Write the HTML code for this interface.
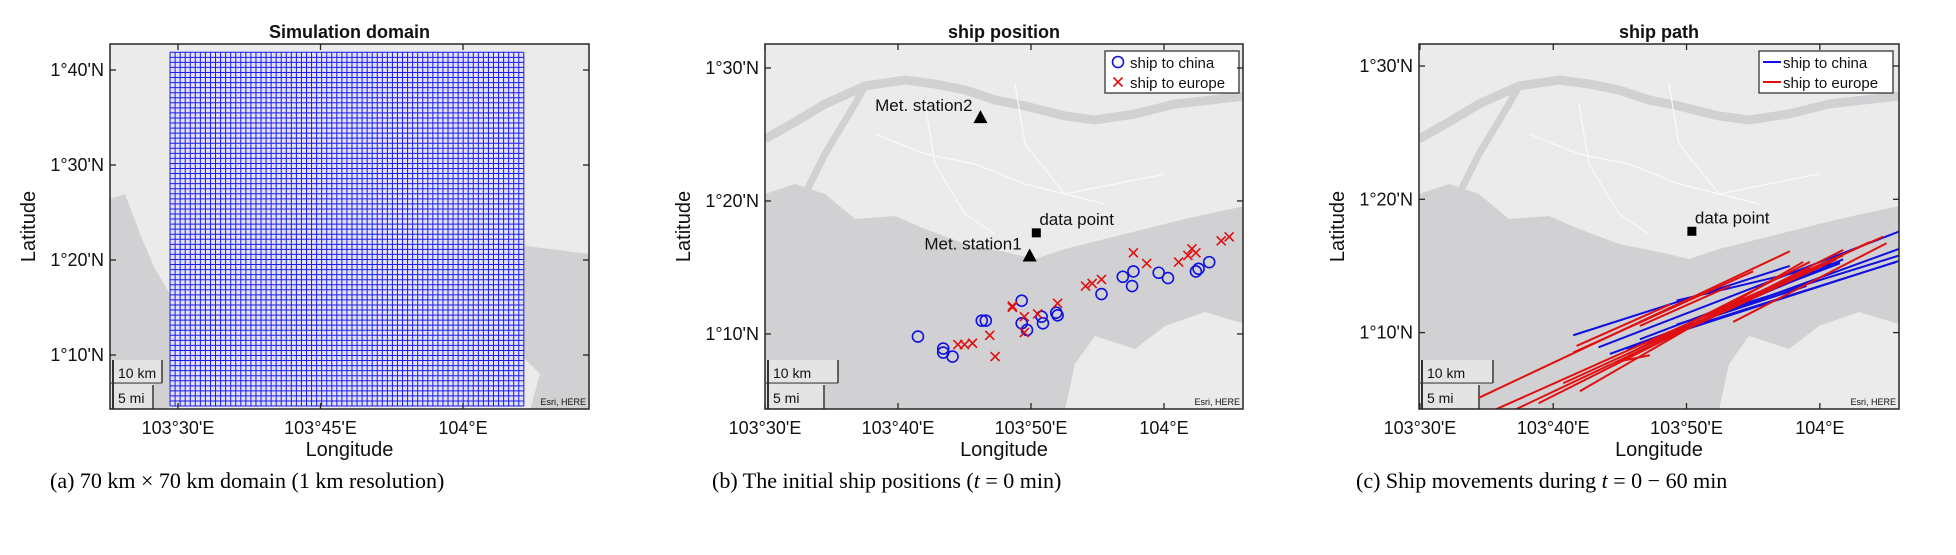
<!DOCTYPE html>
<html><head><meta charset="utf-8">
<style>
html,body{margin:0;padding:0;background:#fff;}
svg{display:block;}
text{font-family:"Liberation Sans",Arial,sans-serif;fill:#111;}
.cap{font-family:"Liberation Serif","Times New Roman",serif;font-size:22px;fill:#000;}
</style></head>
<body>
<svg id="fig" width="1956" height="555" viewBox="0 0 1956 555" xmlns="http://www.w3.org/2000/svg">
<defs>
<clipPath id="clipA"><rect x="110" y="44" width="479" height="365"/></clipPath>
<clipPath id="clipB"><rect x="765" y="44" width="478" height="365"/></clipPath>
<clipPath id="clipC"><rect x="1419" y="44" width="480" height="365"/></clipPath>
</defs>
<g id="layer"></g>
<text class="cap" x="50" y="488">(a)  70 km × 70 km domain (1 km resolution)</text>
<text class="cap" x="712" y="488">(b)  The initial ship positions (<tspan font-style="italic">t</tspan> = 0 min)</text>
<text class="cap" x="1356" y="488">(c)  Ship movements during <tspan font-style="italic">t</tspan> = 0 − 60 min</text>
</svg>
<script>
// ---- data (longitude in minutes after 103°E, latitude in minutes after 1°N) ----
const chinaLon = [41.5,43.4,43.4,44.1,46.3,46.6,49.3,49.3,49.7,50.8,50.9,52.0,51.9,55.3,56.9,57.7,57.6,59.6,60.3,62.4,62.6,63.4];
const chinaLat = [69.8,68.9,68.6,68.3,71.0,71.0,72.5,70.8,70.3,71.3,70.8,71.4,71.6,73.0,74.3,74.7,73.6,74.6,74.2,74.7,74.9,75.4];
const europeLon = [44.5,45.0,45.6,46.9,47.3,48.6,48.6,49.5,49.5,50.5,52.0,54.1,54.6,55.3,57.7,58.7,61.1,61.8,62.1,62.4,64.3,64.9];
const europeLat = [69.2,69.2,69.3,69.9,68.3,72.1,72.0,71.3,70.1,71.5,72.3,73.6,73.8,74.1,76.1,75.3,75.4,75.9,76.4,76.1,77.0,77.3];
const chinaPathLon0 = [41.5,43.4,44.25,49.25,49.25,45.5,46.5,50.75,49.5,52.0];
const chinaPathLat0 = [69.8,68.9,68.4,70.6,72.4,68.8,69.5,70.8,70.2,71.3];
const chinaPathLon1 = [57.75,66.0,66.0,66.0,61.5,66.0,61.5,59.0,65.75,61.75];
const chinaPathLat1 = [75.0,77.6,76.3,75.8,75.3,75.4,75.2,73.5,75.3,75.5];
const europePathLon0 = [34.4,35.6,37.1,38.9,41.5,41.75,42.0,44.75,45.6,44.75,46.5,53.5,40.75];
const europePathLat0 = [65.1,64.2,64.2,64.7,68.5,69.0,65.6,67.8,68.4,67.8,70.5,70.8,66.2];
const europePathLon1 = [57.75,64.75,63.75,61.75,55.0,48.75,58.75,61.25,59.25,47.25,53.25,65.0,61.75];
const europePathLat1 = [76.1,77.2,76.8,76.2,74.6,72.1,75.3,75.5,75.3,68.3,73.5,76.7,75.8];
const stationNames = ["Met. station1","Met. station2"];
const stationLon = [49.9,46.2];
const stationLat = [75.9,86.3];
const dataPointLon = [50.4];
const dataPointLat = [77.6];
const gridCells = 70;
const gridLon0 = [29.16];
const gridLat0 = [64.63];
const gridCellMin = [0.532];
const xTicksA = [30,45,60];
const xTickLabelsA = ["103°30'E","103°45'E","104°E"];
const yTicksA = [70,80,90,100];
const yTickLabelsA = ["1°10'N","1°20'N","1°30'N","1°40'N"];
const xTicksBC = [30,40,50,60];
const xTickLabelsBC = ["103°30'E","103°40'E","103°50'E","104°E"];
const yTicksBC = [70,80,90];
const yTickLabelsBC = ["1°10'N","1°20'N","1°30'N"];

const NS = "http://www.w3.org/2000/svg";
const layer = document.getElementById('layer');
function mk(tag, attrs, parent){
  const e = document.createElementNS(NS, tag);
  for (const k in attrs) e.setAttribute(k, attrs[k]);
  (parent||layer).appendChild(e);
  return e;
}
function panel(left, top, w, h, lonLeft, latTop, ppm){
  return {left, top, w, h,
    x: lon => left + (lon - lonLeft) * ppm,
    y: lat => top + (latTop - lat) * ppm};
}
const PA = panel(110,44,479,365,22.84,102.74,9.5);
const PB = panel(765,44,478,365,30,91.8,13.3);
const PC = panel(1419,44,480,365,29.93,91.65,13.33);

function basemap(P, clip, zoomed){
  const g = mk('g', {'clip-path':'url(#'+clip+')'});
  
  
  mk('rect',{x:P.left,y:P.top,width:P.w,height:P.h,fill:'#ebebec'},g);
  const L=P.left,T=P.top;
  const pts = a => a.map(p => (L+p[0])+','+(T+p[1])).join(' ');
  if (zoomed){
    mk('polygon',{fill:'#d1d1d3',points:pts([[0,150],[30,140],[60,150],[90,175],[130,172],[160,185],[200,200],[240,208],[270,215],[300,205],[340,195],[380,185],[420,175],[480,162],[480,280],[440,268],[400,282],[370,305],[330,292],[310,320],[300,366],[0,366]])},g);
    mk('polyline',{fill:'none',stroke:'#d1d1d3','stroke-width':9,points:pts([[0,95],[30,78],[60,60],[100,42],[140,36],[170,40],[200,46],[230,56],[260,62],[300,72],[330,76],[370,70],[410,60],[480,52]])},g);
    mk('polyline',{fill:'none',stroke:'#d1d1d3','stroke-width':7,points:pts([[40,150],[60,110],[90,60],[100,42]])},g);
    mk('polyline',{fill:'none',stroke:'#fafafa','stroke-width':1.2,points:pts([[110,90],[160,110],[210,120],[260,140],[300,150],[350,140],[400,130]])},g);
    mk('polyline',{fill:'none',stroke:'#fafafa','stroke-width':1.2,points:pts([[160,60],[170,120],[200,170],[230,190]])},g);
    mk('polyline',{fill:'none',stroke:'#fafafa','stroke-width':1.2,points:pts([[250,40],[260,100],[300,150],[340,160]])},g);
  } else {
    mk('polygon',{fill:'#d1d1d3',points:pts([[0,155],[15,150],[30,190],[45,225],[60,250],[60,366],[0,366]])},g);
    mk('polygon',{fill:'#d1d1d3',points:pts([[400,200],[440,205],[479,210],[479,366],[420,366],[430,330],[400,300]])},g);
  }
  return g;
}

function axesFrame(P, xt, xl, yt, yl, title, key){
  const box = mk('rect',{x:P.left,y:P.top,width:P.w,height:P.h,fill:'none',stroke:'#262626','stroke-width':1.5});
  
  
  xt.forEach((v,i)=>{
    const x = P.x(v);
    mk('line',{x1:x,x2:x,y1:P.top+P.h,y2:P.top+P.h-6,stroke:'#262626','stroke-width':1.3});
    mk('line',{x1:x,x2:x,y1:P.top,y2:P.top+6,stroke:'#262626','stroke-width':1.3});
    const t = mk('text',{x:x,y:P.top+P.h+25,'text-anchor':'middle','font-size':18});
    t.textContent = xl[i];
    
    
  });
  yt.forEach((v,i)=>{
    const y = P.y(v);
    mk('line',{x1:P.left,x2:P.left+6,y1:y,y2:y,stroke:'#262626','stroke-width':1.3});
    mk('line',{x1:P.left+P.w,x2:P.left+P.w-6,y1:y,y2:y,stroke:'#262626','stroke-width':1.3});
    const t = mk('text',{x:P.left-6,y:y+6,'text-anchor':'end','font-size':18});
    t.textContent = yl[i];
    
    
  });
  const tt = mk('text',{x:P.left+P.w/2,y:38,'text-anchor':'middle','font-size':18,'font-weight':'bold'});
  tt.textContent = title;
  
  
  const xa = mk('text',{x:P.left+P.w/2,y:456,'text-anchor':'middle','font-size':20});
  xa.textContent = 'Longitude';
  
  
  const cx = P.left-75, cy = P.top+P.h/2;
  const ya = mk('text',{x:cx,y:cy,'text-anchor':'middle','font-size':20,transform:'rotate(-90 '+cx+' '+cy+')'});
  ya.textContent = 'Latitude';
  
  
}

function scaleBar(P, kmW, miW, key){
  const g = mk('g',{});
  
  
  const b = P.top+P.h;
  mk('rect',{x:P.left+1,y:b-49,width:kmW,height:23,fill:'#e4e4e4'},g);
  mk('rect',{x:P.left+1,y:b-25,width:miW,height:24,fill:'#e4e4e4'},g);
  mk('line',{x1:P.left+kmW,x2:P.left+kmW,y1:b-49,y2:b-26,stroke:'#333','stroke-width':1.5},g);
  mk('line',{x1:P.left+1,x2:P.left+kmW,y1:b-26,y2:b-26,stroke:'#333','stroke-width':1},g);
  mk('line',{x1:P.left+miW,x2:P.left+miW,y1:b-24,y2:b,stroke:'#333','stroke-width':1.5},g);
  mk('line',{x1:P.left+3,x2:P.left+3,y1:b-49,y2:b,stroke:'#333','stroke-width':2},g);
  const t1 = mk('text',{x:P.left+8,y:b-31,'font-size':14},g); t1.textContent='10 km';
  const t2 = mk('text',{x:P.left+8,y:b-6,'font-size':14},g); t2.textContent='5 mi';
  const e = mk('text',{x:P.left+P.w-3,y:b-4,'text-anchor':'end','font-size':9,fill:'#333'});
  e.textContent='Esri, HERE';
  
  
}

// ---------- Panel A ----------
basemap(PA,'clipA',false);
{
  const g = mk('g',{});
  
  
  const x0 = PA.x(gridLon0[0]), x1 = PA.x(gridLon0[0]+gridCells*gridCellMin[0]);
  const y0 = PA.y(gridLat0[0]), y1 = PA.y(gridLat0[0]+gridCells*gridCellMin[0]);
  mk('rect',{x:x0,y:y1,width:x1-x0,height:y0-y1,fill:'#e2e2ee'},g);
  for (let i=0;i<=gridCells;i++){
    const x = PA.x(gridLon0[0]+i*gridCellMin[0]);
    mk('line',{x1:x,x2:x,y1:y0,y2:y1,stroke:'#1a1af0','stroke-width':1},g);
    const y = PA.y(gridLat0[0]+i*gridCellMin[0]);
    mk('line',{x1:x0,x2:x1,y1:y,y2:y,stroke:'#1a1af0','stroke-width':1},g);
  }
}
scaleBar(PA,52,43,'panel-a');
axesFrame(PA,xTicksA,xTickLabelsA,yTicksA,yTickLabelsA,'Simulation domain','panel-a');

// ---------- Panel B ----------
basemap(PB,'clipB',true);
scaleBar(PB,73,59,'panel-b');
{
  const g = mk('g',{'clip-path':'url(#clipB)'});
  
  
  chinaLon.forEach((v,i)=>{
    const c = mk('circle',{cx:PB.x(v),cy:PB.y(chinaLat[i]),r:5.5,fill:'none',stroke:'#1010e0','stroke-width':1.6},g);
    
    
  });
  europeLon.forEach((v,i)=>{
    const x = PB.x(v), y = PB.y(europeLat[i]), s = 4.5;
    const p = mk('path',{d:`M${x-s},${y-s}L${x+s},${y+s}M${x-s},${y+s}L${x+s},${y-s}`,stroke:'#e01010','stroke-width':1.6,fill:'none'},g);
    
    
  });
  stationLon.forEach((v,i)=>{
    const x = PB.x(v), y = PB.y(stationLat[i]);
    const tri = mk('polygon',{points:`${x-7},${y+6} ${x+7},${y+6} ${x},${y-7}`,fill:'#000'},g);
    
    
    const t = mk('text',{x:x-8,y:y-6,'text-anchor':'end','font-size':17});
    t.textContent = stationNames[i];
    
    
  });
  const dx = PB.x(dataPointLon[0]), dy = PB.y(dataPointLat[0]);
  const sq = mk('rect',{x:dx-4.5,y:dy-4.5,width:9,height:9,fill:'#000'},g);
  
  
  const dt = mk('text',{x:dx+3,y:dy-8,'font-size':17});
  dt.textContent='data point';
  
  
}
{
  const g = mk('g',{});
  
  
  mk('rect',{x:1105,y:51,width:134,height:42,fill:'#fff',stroke:'#262626','stroke-width':1.2},g);
  mk('circle',{cx:1118,cy:62,r:5.5,fill:'none',stroke:'#1010e0','stroke-width':1.6},g);
  mk('path',{d:'M1113.5,77.5L1122.5,86.5M1113.5,86.5L1122.5,77.5',stroke:'#e01010','stroke-width':1.6},g);
  const a = mk('text',{x:1130,y:68,'font-size':15},g); a.textContent='ship to china';
  
  
  const b = mk('text',{x:1130,y:88,'font-size':15},g); b.textContent='ship to europe';
  
  
}
axesFrame(PB,xTicksBC,xTickLabelsBC,yTicksBC,yTickLabelsBC,'ship position','panel-b');

// ---------- Panel C ----------
basemap(PC,'clipC',true);
scaleBar(PC,74,60,'panel-c');
{
  const g = mk('g',{'clip-path':'url(#clipC)'});
  
  
  chinaPathLon0.forEach((v,i)=>{
    const l = mk('line',{x1:PC.x(v),y1:PC.y(chinaPathLat0[i]),x2:PC.x(chinaPathLon1[i]),y2:PC.y(chinaPathLat1[i]),stroke:'#1010e0','stroke-width':2},g);
    
    
  });
  europePathLon0.forEach((v,i)=>{
    const l = mk('line',{x1:PC.x(v),y1:PC.y(europePathLat0[i]),x2:PC.x(europePathLon1[i]),y2:PC.y(europePathLat1[i]),stroke:'#e01010','stroke-width':2},g);
    
    
  });
  const dx = PC.x(dataPointLon[0]), dy = PC.y(dataPointLat[0]);
  const sq = mk('rect',{x:dx-4.5,y:dy-4.5,width:9,height:9,fill:'#000'},g);
  
  
  const dt = mk('text',{x:dx+3,y:dy-8,'font-size':17});
  dt.textContent='data point';
  
  
}
{
  const g = mk('g',{});
  
  
  mk('rect',{x:1759,y:51,width:134,height:42,fill:'#fff',stroke:'#262626','stroke-width':1.2},g);
  mk('line',{x1:1763,x2:1781,y1:62,y2:62,stroke:'#1010e0','stroke-width':2},g);
  mk('line',{x1:1763,x2:1781,y1:82,y2:82,stroke:'#e01010','stroke-width':2},g);
  const a = mk('text',{x:1783,y:68,'font-size':15},g); a.textContent='ship to china';
  
  
  const b = mk('text',{x:1783,y:88,'font-size':15},g); b.textContent='ship to europe';
  
  
}
axesFrame(PC,xTicksBC,xTickLabelsBC,yTicksBC,yTickLabelsBC,'ship path','panel-c');
</script>
</body></html>
